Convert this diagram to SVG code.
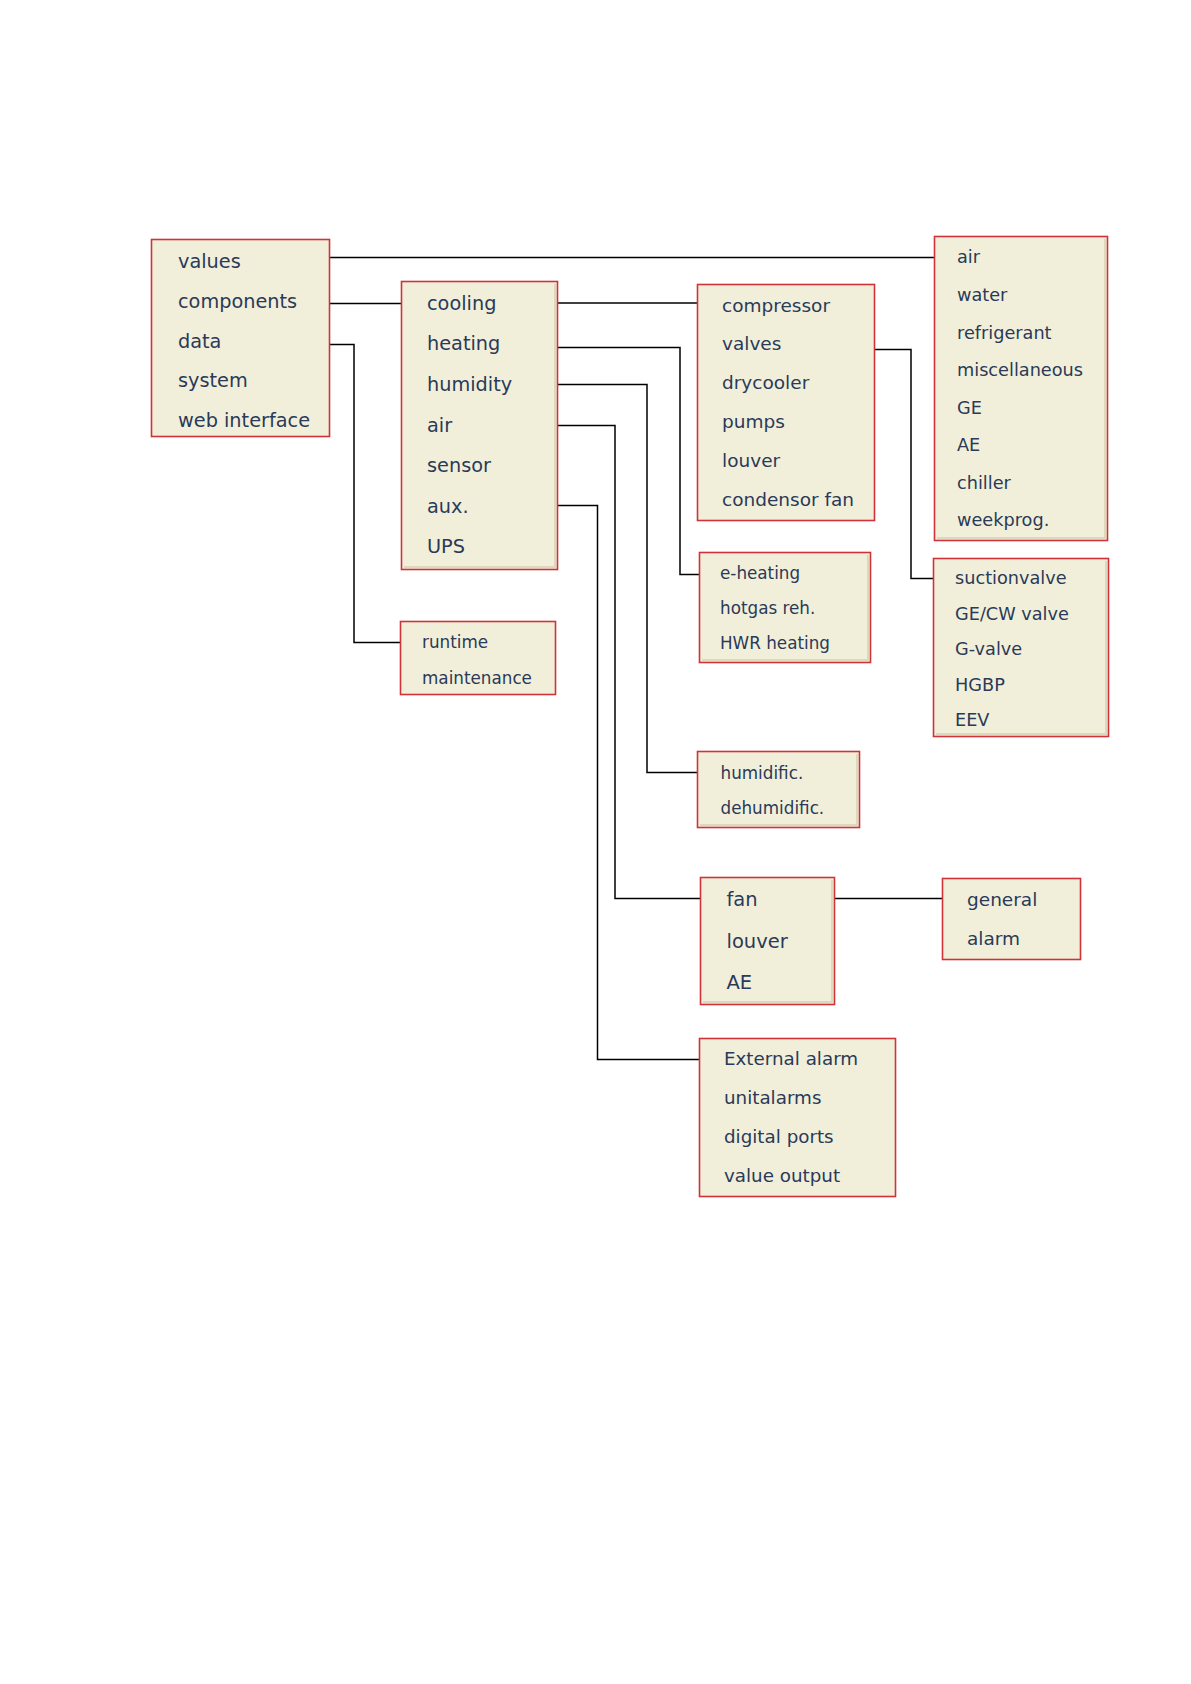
<svg xmlns="http://www.w3.org/2000/svg" width="1191" height="1684" viewBox="0 0 1191 1684">
<style>
.box{fill:#f1efda;stroke:#cf3339;stroke-width:1.6}
.sh{fill:none;stroke:#dcd9bf;stroke-width:2}
.t{font-family:"DejaVu Sans","Verdana",sans-serif;fill:#2a3a58}
.s19{font-size:19.3px}
.s18{font-size:18.5px}
.s17{font-size:17.7px}
.s16{font-size:16.8px}
.c{fill:none;stroke:#000;stroke-width:1.5}
</style>
<rect width="1191" height="1684" fill="#fff"/>
<g id="connectors">
<path class="c" d="M330 257.5H934"/>
<path class="c" d="M330 303.5H401"/>
<path class="c" d="M557 303H697"/>
<path class="c" d="M330 344.5H354V642.5H400"/>
<path class="c" d="M557 347.5H680V574.5H699"/>
<path class="c" d="M557 384.5H647V772.5H697"/>
<path class="c" d="M557 425.5H615V898.5H700"/>
<path class="c" d="M557 505.5H597.5V1059.5H699"/>
<path class="c" d="M875 349.5H911V578.5H933"/>
<path class="c" d="M834 898.5H942"/>
</g>
<g id="main">
<rect class="box" x="151.5" y="239.5" width="178" height="197"/>
<g class="t s19">
<text x="178" y="268">values</text>
<text x="178" y="308">components</text>
<text x="178" y="347.5">data</text>
<text x="178" y="387">system</text>
<text x="178" y="426.5">web interface</text>
</g>
</g>
<g id="components">
<rect class="box" x="401.5" y="281.5" width="156" height="288"/>
<polyline class="sh" points="555,284 555,567 404,567"/>
<g class="t s19">
<text x="427" y="310">cooling</text>
<text x="427" y="350">heating</text>
<text x="427" y="390.5">humidity</text>
<text x="427" y="431.5">air</text>
<text x="427" y="472">sensor</text>
<text x="427" y="512.5">aux.</text>
<text x="427" y="552.5">UPS</text>
</g>
</g>
<g id="cooling">
<rect class="box" x="697.5" y="284.5" width="177" height="236"/>
<g class="t s18">
<text x="722" y="311.5">compressor</text>
<text x="722" y="350">valves</text>
<text x="722" y="389">drycooler</text>
<text x="722" y="428">pumps</text>
<text x="722" y="467">louver</text>
<text x="722" y="506">condensor fan</text>
</g>
</g>
<g id="values">
<rect class="box" x="934.5" y="236.5" width="173" height="304"/>
<polyline class="sh" points="1105,239 1105,538 937,538"/>
<g class="t s17">
<text x="957" y="263">air</text>
<text x="957" y="301">water</text>
<text x="957" y="338.5">refrigerant</text>
<text x="957" y="376">miscellaneous</text>
<text x="957" y="413.5">GE</text>
<text x="957" y="451">AE</text>
<text x="957" y="488.5">chiller</text>
<text x="957" y="526">weekprog.</text>
</g>
</g>
<g id="data">
<rect class="box" x="400.5" y="621.5" width="155" height="73"/>
<g class="t s16">
<text x="422" y="648">runtime</text>
<text x="422" y="684">maintenance</text>
</g>
</g>
<g id="heating">
<rect class="box" x="699.5" y="552.5" width="171" height="110"/>
<polyline class="sh" points="868,555 868,660 702,660"/>
<g class="t s16">
<text x="720" y="579">e-heating</text>
<text x="720" y="614">hotgas reh.</text>
<text x="720" y="649">HWR heating</text>
</g>
</g>
<g id="valves">
<rect class="box" x="933.5" y="558.5" width="175" height="178"/>
<polyline class="sh" points="1106,561 1106,734 936,734"/>
<g class="t s17">
<text x="955" y="584">suctionvalve</text>
<text x="955" y="620">GE/CW valve</text>
<text x="955" y="655">G-valve</text>
<text x="955" y="690.5">HGBP</text>
<text x="955" y="726">EEV</text>
</g>
</g>
<g id="humidity">
<rect class="box" x="697.5" y="751.5" width="162" height="76"/>
<polyline class="sh" points="857,754 857,825 700,825"/>
<g class="t s16">
<text x="720.5" y="779">humidific.</text>
<text x="720.5" y="814">dehumidific.</text>
</g>
</g>
<g id="air">
<rect class="box" x="700.5" y="877.5" width="134" height="127"/>
<polyline class="sh" points="832,880 832,1002 703,1002"/>
<g class="t" style="font-size:19.5px">
<text x="726.5" y="906">fan</text>
<text x="726.5" y="947.5">louver</text>
<text x="726.5" y="988.5">AE</text>
</g>
</g>
<g id="fan">
<rect class="box" x="942.5" y="878.5" width="138" height="81"/>
<g class="t s18">
<text x="967" y="906">general</text>
<text x="967" y="945">alarm</text>
</g>
</g>
<g id="aux">
<rect class="box" x="699.5" y="1038.5" width="196" height="158"/>
<g class="t" style="font-size:18.3px">
<text x="724" y="1065">External alarm</text>
<text x="724" y="1104">unitalarms</text>
<text x="724" y="1143">digital ports</text>
<text x="724" y="1182">value output</text>
</g>
</g>
</svg>
